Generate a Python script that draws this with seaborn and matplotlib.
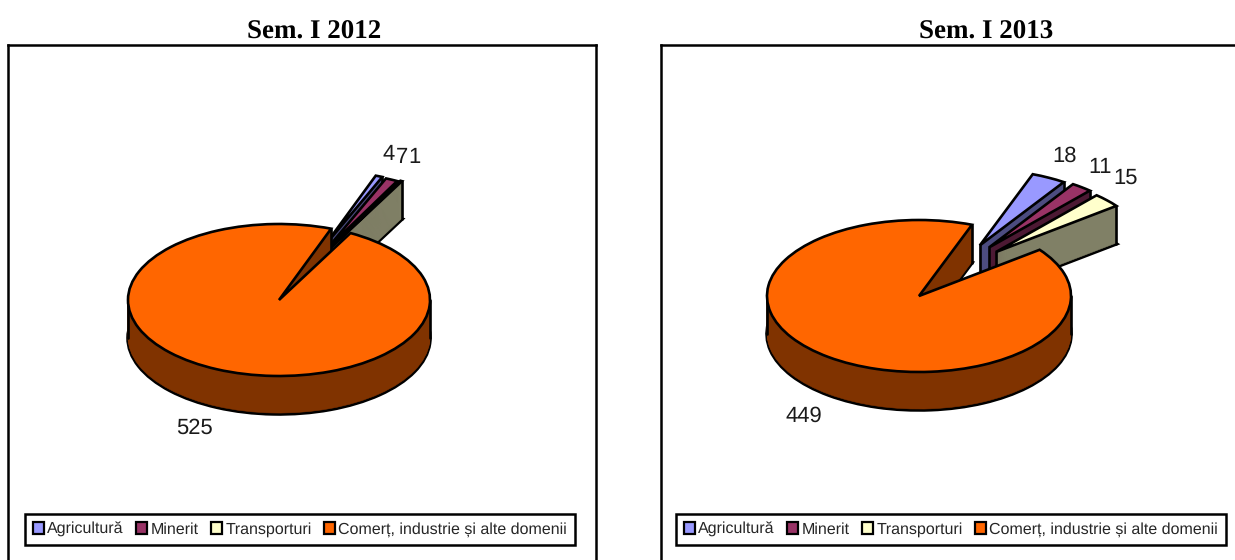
import numpy as np
import matplotlib
matplotlib.use("Agg")
import matplotlib.pyplot as plt
from matplotlib.patches import Patch
import seaborn as sns

categories = ["Agricultură", "Minerit", "Transporturi", "Comerț, industrie și alte domenii"]
values_2012 = [4, 7, 1, 525]
values_2013 = [18, 11, 15, 449]
titles = ["Sem. I 2012", "Sem. I 2013"]

top_colors = ["#9999FF", "#993366", "#FFFFCC", "#FF6600"]
wall_colors = ["#4C4C80", "#4C1933", "#808066", "#803300"]

W, H = 1235, 560
DEPTH = 0.5   # pie thickness, in y units of the axes
EDGE = 1.9

sns.set_theme(style="white")
plt.rcParams["font.family"] = ["Liberation Sans", "DejaVu Sans"]
plt.rcParams["text.hinting"] = "no_hinting"
plt.rcParams["text.hinting_factor"] = 1

fig = plt.figure(figsize=(W / 100, H / 100), dpi=100, facecolor="white")


def panel(box, center, rx, ry):
    # box and center are in pixels of the picture
    x0, x1, y0, y1 = box
    ax = fig.add_axes([x0 / W, 1 - y1 / H, (x1 - x0) / W, (y1 - y0) / H])
    lims = ((x0 - center[0]) / rx, (x1 - center[0]) / rx,
            (center[1] - y1) / ry, (center[1] - y0) / ry)
    return ax, lims


def draw_pie(ax, lims, values, start, explode, nudge):
    layers = np.linspace(0, 1, 40)

    def shift(wedges):
        # small slices sit a bit off their bisector in the original
        for w, (nx, ny) in zip(wedges, nudge):
            cx, cy = w.center
            w.set_center((cx + nx, cy + ny))

    # stack of dark pies gives the wall, from the bottom up
    for frac in layers:
        wedges, _ = ax.pie(values, colors=wall_colors, startangle=start, counterclock=False,
                           explode=explode, center=(0, -DEPTH * (1 - frac)), radius=1,
                           wedgeprops=dict(linewidth=0.4))
        shift(wedges)
        for i, w in enumerate(wedges):
            w.set_zorder(i * 10 + frac)
            w.set_edgecolor(wall_colors[i])
            if frac == 0:
                w.set_edgecolor("black")
                w.set_linewidth(EDGE * 1.35)

    wedges, _ = ax.pie(values, colors=top_colors, startangle=start, counterclock=False,
                       explode=explode, center=(0, 0), radius=1,
                       wedgeprops=dict(linewidth=EDGE, edgecolor="black"))
    shift(wedges)
    for i, w in enumerate(wedges):
        w.set_zorder(i * 10 + 3)
        cx, cy = w.center
        # vertical wall edges, only the ones that can be seen
        px = cx + np.cos(np.radians(w.theta1))
        py = cy + np.sin(np.radians(w.theta1))
        ax.plot([px, px], [py, py - DEPTH], color="black", lw=EDGE, zorder=i * 10 + 2)
        if i < 3:
            ax.plot([cx, cx], [cy, cy - DEPTH], color="black", lw=EDGE, zorder=i * 10 + 2)
    # silhouette of the big slice
    for side in (-1, 1):
        ax.plot([side, side], [0, -DEPTH], color="black", lw=EDGE, zorder=32)

    ax.set_aspect("auto")
    ax.set_xlim(lims[0], lims[1])
    ax.set_ylim(lims[2], lims[3])
    ax.set_frame_on(True)
    for s in ax.spines.values():
        s.set_visible(True)
        s.set_color("black")
        s.set_linewidth(1.8)


def add_legend(ax, box):
    handles = [Patch(facecolor=c, edgecolor="black", linewidth=1.6) for c in top_colors]
    x0, x1, y0, y1 = box
    leg = ax.legend(handles, categories, ncol=4, loc="center",
                    bbox_to_anchor=((x0 + x1) / 2 / W, 1 - (y0 + y1) / 2 / H),
                    bbox_transform=fig.transFigure,
                    fontsize=11.8, frameon=True, fancybox=False, framealpha=1,
                    edgecolor="black", handlelength=0.68, handleheight=0.68,
                    handletextpad=0.2, columnspacing=0.75, borderpad=0.5, borderaxespad=0)
    leg.get_frame().set_linewidth(1.8)
    leg.set_zorder(100)


# left panel
ax1, lims1 = panel((8, 596, 45, 575), (279, 300), 151, 76)
draw_pie(ax1, lims1, values_2012, 69.8, [0.75, 0.75, 0.75, 0],
         [(0.02, 0), (0, 0), (-0.01, 0.02), (0, 0)])
add_legend(ax1, (22, 578, 513, 546))

# right panel
ax2, lims2 = panel((661, 1250, 45, 575), (919, 296), 152, 76)
draw_pie(ax2, lims2, values_2013, 69.6, [0.78, 0.78, 0.78, 0],
         [(0.046, -0.03), (-0.015, 0.02), (-0.066, 0.046), (0, 0)])
add_legend(ax2, (675, 1227, 513, 546))

fig.text(314.5 / W, 1 - 32 / H, titles[0], family="Liberation Serif", weight="bold",
         fontsize=19.4, ha="center", va="center", color="black")
fig.text(986.5 / W, 1 - 32 / H, titles[1], family="Liberation Serif", weight="bold",
         fontsize=19.4, ha="center", va="center", color="black")

# data labels, placed by hand like in the original
label_spots = [("4", 389, 154), ("7", 402, 157), ("1", 414, 157), ("525", 194, 428),
               ("18", 1065, 156), ("11", 1100, 167), ("15", 1126, 178), ("449", 804, 416)]
for txt, px, py in label_spots:
    fig.text(px / W, 1 - py / H, txt, fontsize=15.5, ha="center", va="center",
             color="#1a1a1a", zorder=200)

fig.savefig("out.png", dpi=100)
